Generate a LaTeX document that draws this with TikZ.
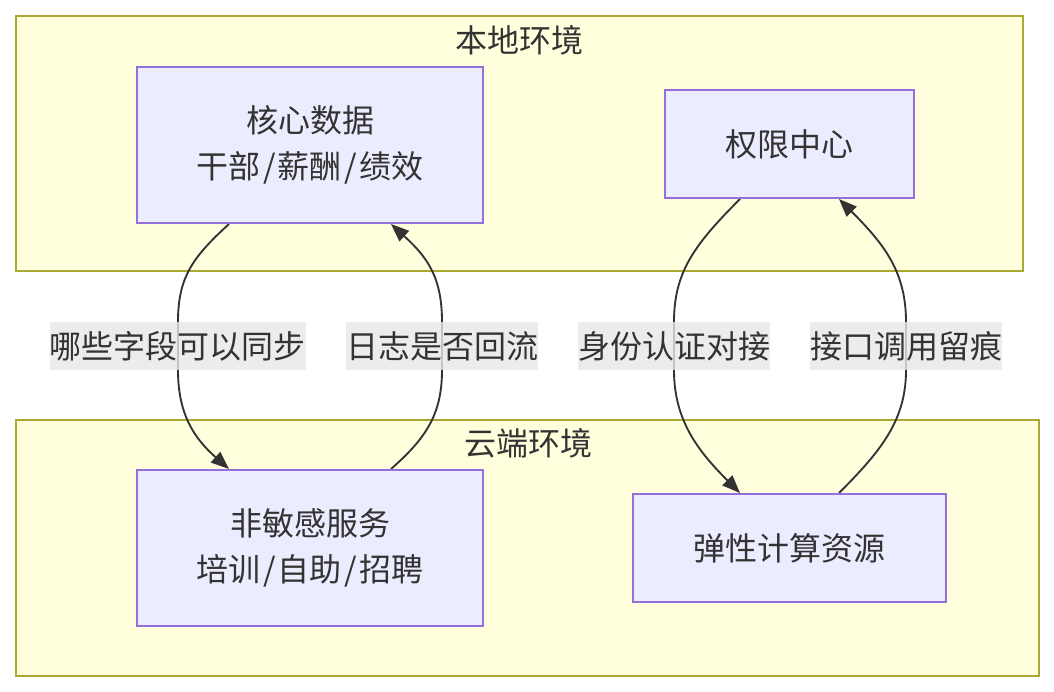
\documentclass[tikz,border=0pt]{standalone}
\usepackage{fontspec}
\newfontfamily\cjk{Noto Sans CJK SC}
\usetikzlibrary{arrows.meta}
\definecolor{clfill}{HTML}{FFFFDE}
\definecolor{clline}{HTML}{AAAA33}
\definecolor{ndfill}{HTML}{ECECFF}
\definecolor{ndline}{HTML}{9370DB}
\definecolor{txt}{HTML}{333333}
\definecolor{lblbg}{HTML}{E8E8E8}
\newcommand{\myslash}{\kern1.7pt/\kern1.7pt}
\pgfdeclarelayer{background}
\pgfdeclarelayer{edges}
\pgfsetlayers{background,edges,main}
\tikzset{
  cluster/.style={draw=clline, fill=clfill, line width=1.5pt, inner sep=0pt},
  cltitle/.style={text=txt, font=\cjk\fontsize{24}{30}\selectfont, inner sep=0pt},
  box/.style={draw=ndline, fill=ndfill, line width=1.5pt, text=txt, align=center,
    font=\cjk\fontsize{24}{34.5}\selectfont, inner sep=0pt},
  elabel/.style={fill=lblbg, fill opacity=0.8, text opacity=1, text=txt,
    font=\cjk\fontsize{24}{30}\selectfont, inner xsep=0pt, inner ysep=0pt,
    minimum height=36pt},
  edge/.style={draw=txt, line width=1.4pt, -{Triangle[length=13.5pt,width=10.5pt]}}
}
\begin{document}
\begin{tikzpicture}[x=0.75pt,y=-0.75pt]
\useasboundingbox (0,0) rectangle (1054,692);
\begin{pgfonlayer}{background}
\fill[white] (0,0) rectangle (1054,692);
\node[cluster, minimum width=755.25pt, minimum height=191.25pt] (local) at (519.5,143.5) {};
\node[cluster, minimum width=767.25pt, minimum height=192pt] (cloud) at (527.5,548) {};
\end{pgfonlayer}
\node[cltitle] (localt) at (519,40) {本地环境};
\node[cltitle] (cloudt) at (528,443) {云端环境};

\node[box, minimum width=259.5pt, minimum height=117pt] (core) at (310,145) {核心数据\\干部\myslash 薪酬\myslash 绩效};
\node[box, minimum width=186.75pt, minimum height=81pt] (perm) at (789.5,144) {权限中心};
\node[box, minimum width=259.5pt, minimum height=117pt] (noncore) at (310,548) {非敏感服务\\培训\myslash 自助\myslash 招聘};
\node[box, minimum width=234.75pt, minimum height=81pt] (elastic) at (789.5,548) {弹性计算资源};

\node[elabel] (l1) at (178,346) {哪些字段可以同步};
\node[elabel] (l2) at (442,346) {日志是否回流};
\node[elabel] (l3) at (674,346) {身份认证对接};
\node[elabel] (l4) at (906,346) {接口调用留痕};

\begin{pgfonlayer}{edges}
\draw[edge] ([xshift=-60.75pt]core.south) .. controls +(-36,33) and +(0,-45) .. (l1.north) -- (l1.south) .. controls +(0,45) and +(-34,-30) .. ([xshift=-60.75pt]noncore.north);
\draw[edge] ([xshift=60.75pt]noncore.north) .. controls +(34,-30) and +(0,45) .. (l2.south) -- (l2.north) .. controls +(0,-45) and +(36,33) .. ([xshift=60.75pt]core.south);
\draw[edge] ([xshift=-37.125pt]perm.south) .. controls +(-45,45) and +(0,-50) .. (l3.north) -- (l3.south) .. controls +(0,50) and +(-42,-42) .. ([xshift=-37.125pt]elastic.north);
\draw[edge] ([xshift=37.125pt]elastic.north) .. controls +(42,-42) and +(0,50) .. (l4.south) -- (l4.north) .. controls +(0,-50) and +(45,45) .. ([xshift=37.125pt]perm.south);
\end{pgfonlayer}
\end{tikzpicture}
\end{document}
